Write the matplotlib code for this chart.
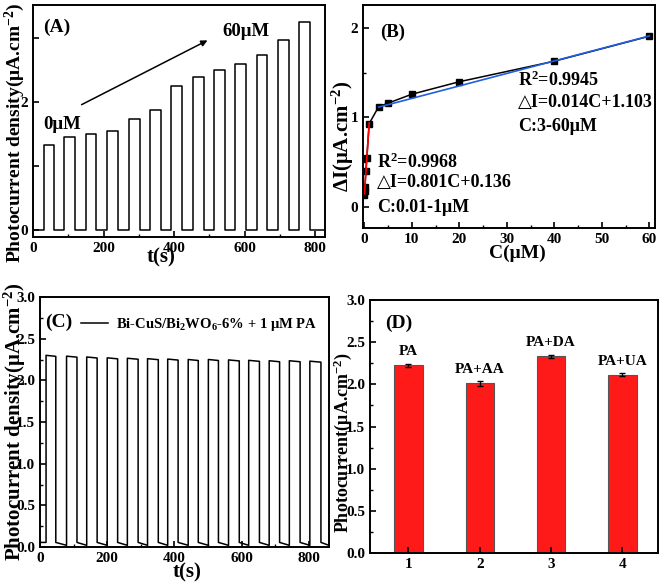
import numpy as np
import matplotlib
matplotlib.use("Agg")
import matplotlib.pyplot as plt
from matplotlib.ticker import MultipleLocator, FixedLocator, FixedFormatter

plt.rcParams['font.family'] = ['Liberation Serif', 'DejaVu Sans']
plt.rcParams['font.weight'] = 'bold'
plt.rcParams['axes.labelweight'] = 'bold'
plt.rcParams['mathtext.fontset'] = 'custom'
plt.rcParams['mathtext.rm'] = 'Liberation Serif:bold'
plt.rcParams['mathtext.bf'] = 'Liberation Serif:bold'
plt.rcParams['mathtext.it'] = 'Liberation Serif:bold:italic'
plt.rcParams['mathtext.default'] = 'rm'
plt.rcParams['axes.linewidth'] = 1.4
plt.rcParams['xtick.direction'] = 'in'
plt.rcParams['ytick.direction'] = 'in'
plt.rcParams['xtick.major.width'] = 1.2
plt.rcParams['ytick.major.width'] = 1.2
plt.rcParams['xtick.minor.width'] = 1.0
plt.rcParams['ytick.minor.width'] = 1.0
plt.rcParams['xtick.major.size'] = 4
plt.rcParams['ytick.major.size'] = 4
plt.rcParams['xtick.minor.size'] = 2.5
plt.rcParams['ytick.minor.size'] = 2.5

# (A) pulses with increasing PA concentration
a_on = [30, 88, 150, 210, 272, 332, 392, 454, 514, 574, 634, 695, 755]
a_off = [60, 120, 180, 240, 302, 362, 422, 484, 544, 604, 664, 725, 785]
a_high = [1.33, 1.45, 1.50, 1.54, 1.73, 1.87, 2.25, 2.38, 2.49, 2.59, 2.73, 2.96, 3.24]
a_end = 828

# (B) calibration
b_conc = [0.01, 0.05, 0.1, 0.3, 0.5, 1, 3, 5, 10, 20, 40, 60]
b_di = [0.13, 0.17, 0.22, 0.40, 0.54, 0.93, 1.12, 1.16, 1.26, 1.40, 1.63, 1.91]
fit_low = (0.801, 0.136, 0.01, 1.0)
fit_high = (0.014, 1.103, 3.0, 60.0)

# (C) stability
c_on = [18, 79, 139, 200, 260, 320, 380, 441, 501, 561, 621, 682, 742, 803]
c_off = [47, 110, 170, 231, 292, 352, 411, 471, 531, 593, 653, 713, 774, 836]
c_high = [2.30, 2.29, 2.28, 2.27, 2.265, 2.26, 2.255, 2.25, 2.25, 2.245, 2.24, 2.235, 2.235, 2.23]
c_low_start = 0.055
c_low_end = 0.02
c_end = 860

# (D) interference
d_pos = [1, 2, 3, 4]
d_val = [2.225, 2.01, 2.335, 2.115]
d_err = [0.015, 0.025, 0.018, 0.022]
d_lbl = ['PA', 'PA+AA', 'PA+DA', 'PA+UA']

fig = plt.figure(figsize=(6.61, 5.85), dpi=100)
W, H = 661, 585


def make_ax(l, t, r, b):
    return fig.add_axes([l / W, 1 - b / H, (r - l) / W, (b - t) / H])


axA = make_ax(33, 5, 325, 237)
axB = make_ax(363, 5, 655, 228)
axC = make_ax(40, 297, 329, 547)
axD = make_ax(370, 300, 658, 553)

# ---- A
xs, ys = [0], [0]
for t1, t2, h in zip(a_on, a_off, a_high):
    xs += [t1, t1, t2, t2]
    ys += [0, h, h, 0]
xs.append(a_end)
ys.append(0)
axA.plot(xs, ys, color='black', lw=1.1)
axA.set_xlim(0, a_end)
axA.set_ylim(-0.115, 3.51)
axA.xaxis.set_major_locator(MultipleLocator(200))
axA.xaxis.set_minor_locator(MultipleLocator(100))
axA.yaxis.set_major_locator(FixedLocator([0, 1, 2, 3]))
axA.yaxis.set_major_formatter(FixedFormatter(['0', '', '2', '']))
axA.set_xlabel('t(s)', fontsize=15)
axA.xaxis.set_label_coords(0.44, -0.09)
axA.xaxis.label.set_va('center')
axA.set_ylabel('Photocurrent density(μA.cm$^{-2}$)', fontsize=14)
axA.yaxis.set_label_coords(-0.062, 0.45)
axA.yaxis.label.set_va('center')
axA.text(0.035, 0.905, '(A)', transform=axA.transAxes, fontsize=14, va='center')
axA.text(0.647, 0.884, '60μM', transform=axA.transAxes, fontsize=13.5, va='center')
axA.text(0.034, 0.483, '0μM', transform=axA.transAxes, fontsize=13.5, va='center')
axA.annotate('', xy=(0.606, 0.853), xytext=(0.158, 0.565), xycoords='axes fraction',
             arrowprops=dict(arrowstyle='-|>', color='black', lw=1.1, mutation_scale=9))

# ---- B
axB.plot(b_conc, b_di, color='black', lw=1.1, marker='s', ms=4, mfc='black')
xl = np.array(fit_low[2:])
axB.plot(xl, fit_low[0] * xl + fit_low[1], color='red', lw=1.2)
xh = np.array(fit_high[2:])
axB.plot(xh, fit_high[0] * xh + fit_high[1] - 0.03, color='#1f5fe0', lw=1.2)
axB.set_xlim(-0.3, 61.2)
axB.set_ylim(-0.24, 2.26)
axB.xaxis.set_major_locator(MultipleLocator(10))
axB.xaxis.set_minor_locator(MultipleLocator(5))
axB.yaxis.set_major_locator(MultipleLocator(1))
axB.yaxis.set_minor_locator(MultipleLocator(0.5))
axB.set_xlabel('C(μM)', fontsize=14)
axB.xaxis.set_label_coords(0.53, -0.112)
axB.xaxis.label.set_va('center')
axB.set_ylabel('ΔI(μA.cm$^{-2}$)', fontsize=15)
axB.yaxis.set_label_coords(-0.068, 0.41)
axB.yaxis.label.set_va('center')
axB.text(0.058, 0.879, '(B)', transform=axB.transAxes, fontsize=13.5, va='center')
for txt, y in zip(['R$^2$=0.9945', '△I=0.014C+1.103', 'C:3-60μM'], [0.664, 0.561, 0.453]):
    axB.text(0.531, y, txt, transform=axB.transAxes, fontsize=13, va='center')
for txt, y in zip(['R$^2$=0.9968', '△I=0.801C+0.136', 'C:0.01-1μM'], [0.296, 0.202, 0.090]):
    axB.text(0.048, y, txt, transform=axB.transAxes, fontsize=13, va='center')

# ---- C
xs, ys = [0, c_on[0]], [c_low_start, c_low_start]
for i, (t1, t2, h) in enumerate(zip(c_on, c_off, c_high)):
    nxt = c_on[i + 1] if i + 1 < len(c_on) else c_end
    xs += [t1, t2, t2, nxt]
    ys += [h, h - 0.012, c_low_start, c_low_end]
    if i + 1 < len(c_on):
        xs.append(nxt)
        ys.append(c_low_end)
axC.plot(xs, ys, color='black', lw=1.1, label='Bi-CuS/Bi$_2$WO$_6$-6% + 1 μM PA')
axC.set_xlim(0, c_end)
axC.set_ylim(0, 3.0)
axC.xaxis.set_major_locator(MultipleLocator(200))
axC.xaxis.set_minor_locator(MultipleLocator(100))
axC.yaxis.set_major_locator(MultipleLocator(0.5))
axC.yaxis.set_minor_locator(MultipleLocator(0.25))
axC.yaxis.set_major_formatter(plt.FormatStrFormatter('%.1f'))
axC.set_xlabel('t(s)', fontsize=15)
axC.xaxis.set_label_coords(0.51, -0.1)
axC.xaxis.label.set_va('center')
axC.set_ylabel('Photocurrent density(μA.cm$^{-2}$)', fontsize=15)
axC.yaxis.set_label_coords(-0.086, 0.5)
axC.yaxis.label.set_va('center')
axC.text(0.017, 0.9, '(C)', transform=axC.transAxes, fontsize=14, va='center')
axC.legend(loc='upper left', bbox_to_anchor=(0.095, 0.975), frameon=False, fontsize=10.5,
           handlelength=1.9, handletextpad=0.5)

# ---- D
axD.bar(d_pos, d_val, width=0.4, color='#ff1a1a', edgecolor='#555555', linewidth=0.8,
        yerr=d_err, capsize=2.5, error_kw=dict(elinewidth=1.0, capthick=1.0, ecolor='black'))
for x, v, lab in zip(d_pos, d_val, d_lbl):
    axD.text(x, v + 0.16, lab, ha='center', va='center', fontsize=11)
axD.set_xlim(0.46, 4.5)
axD.set_ylim(0, 3.0)
axD.set_xticks(d_pos)
axD.yaxis.set_major_locator(MultipleLocator(0.5))
axD.yaxis.set_minor_locator(MultipleLocator(0.25))
axD.yaxis.set_major_formatter(plt.FormatStrFormatter('%.1f'))
axD.set_ylabel('Photocurrent(μA.cm$^{-2}$)', fontsize=13)
axD.yaxis.set_label_coords(-0.094, 0.435)
axD.yaxis.label.set_va('center')
axD.text(0.052, 0.909, '(D)', transform=axD.transAxes, fontsize=14, va='center')

for ax in (axA, axB, axC, axD):
    ax.tick_params(labelsize=11)
    for lab in ax.get_xticklabels() + ax.get_yticklabels():
        lab.set_fontweight('bold')

fig.savefig('out.png', dpi=100)
